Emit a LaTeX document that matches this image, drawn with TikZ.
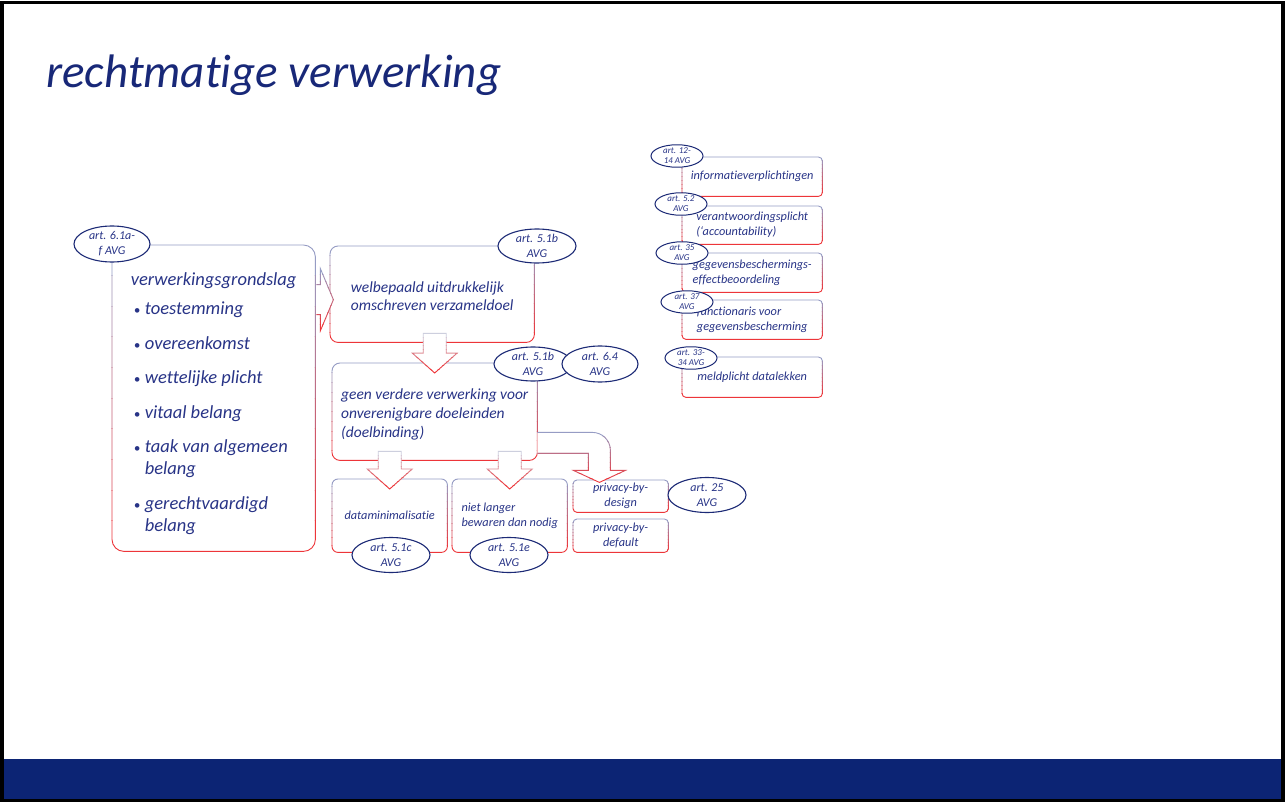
\documentclass[tikz,border=0pt]{standalone}
\usepackage{fontspec}
\setmainfont{Carlito}[Ligatures={TeX,NoCommon}]
\usetikzlibrary{shapes.geometric,calc}

\definecolor{titleblue}{RGB}{24,40,120}
\definecolor{textblue}{RGB}{40,52,135}
\definecolor{artblue}{RGB}{28,42,118}
\definecolor{barblue}{RGB}{12,36,116}
\definecolor{fadegray}{RGB}{150,156,196}
\definecolor{fadelight}{RGB}{205,207,222}
\definecolor{fadered}{RGB}{238,52,56}

% border that runs from blue-grey (top) to red (bottom), drawn in bands
\newcommand\fadedraw[4][fadegray]{%
  \foreach \k in {0,...,9}{%
    \pgfmathtruncatemacro\pct{\k*11}%
    \begin{scope}
      \clip ($(#2)!{\k/10}!(#3)+(-400,{\k==0 ? -3 : 0})$) rectangle
            ($(#2)!{(\k+1)/10}!(#3)+(400,{\k==9 ? 3 : 0})$);
      \draw[fade line, draw=fadered!\pct!#1] #4;
    \end{scope}}}
\newcommand\fadebox[2]{%
  \fadedraw{#1.north}{#1.south}{[rounded corners=#2pt] (#1.north west) rectangle (#1.south east)}}
% hollow block arrow pointing down from node #1 into node #2
\newcommand\downblock[2]{%
  \coordinate (p) at (#2.north|-#1.south);
  \coordinate (q) at (#2.north);
  \coordinate (ftop) at ($(p)+(0,-9)$);
  \coordinate (fbot) at ($(q)+(0,10)$);
  \def\arrowpath{($(p)+(-11.5,-9)$) -- ($(q)+(-11.5,-10)$) -- ($(q)+(-22.5,-10)$)
    -- ($(q)+(0,10)$) -- ($(q)+(22.5,-10)$) -- ($(q)+(11.5,-10)$) -- ($(p)+(11.5,-9)$) -- cycle}%
  \fill[white] \arrowpath;
  \fadedraw[fadelight]{ftop}{fbot}{\arrowpath}}
\newcommand\itm[1]{\hspace*{3pt}\makebox[11pt][l]{\fontsize{13}{13}\selectfont\textbullet}#1}

\begin{document}
\begin{tikzpicture}[x=1pt,y=-1pt,
  box/.style={rectangle, fill=white, anchor=north west, inner sep=0pt, align=left, text=textblue},
  small/.style={font=\fontsize{12.3}{15}\selectfont\itshape},
  art/.style={ellipse, draw=artblue, line width=1.1pt, fill=white, inner sep=0pt, align=center,
    text=textblue, font=\fontsize{12}{15}\selectfont\itshape, minimum width=78pt, minimum height=35pt},
  small art/.style={art, font=\fontsize{9}{10}\selectfont\itshape, minimum width=52pt, minimum height=22pt, line width=1pt},
  fade line/.style={line width=0.9pt}]
  \useasboundingbox (0,0) rectangle (1285,802);
  \fill[white] (0,0) rectangle (1285,802);
  \fill[barblue] (4,759) rectangle (1281,800);
  \draw[line width=3.5pt] (2,2.5) rectangle (1283,800.5);

  \node[anchor=base west, inner sep=0pt, text=titleblue, font=\fontsize{47}{56}\selectfont\itshape] (title) at (46,88) {rechtmatige verwerking};

  % main chain
  \node[box, minimum width=203pt, minimum height=306pt, font=\fontsize{18.5}{22}\selectfont\itshape] (grondslag) at (112,245)
    {\rule{0pt}{24pt}verwerkingsgrondslag\\[7pt]
     \itm{toestemming}\\[12.5pt]
     \itm{overeenkomst}\\[12.5pt]
     \itm{wettelijke plicht}\\[12.5pt]
     \itm{vitaal belang}\\[12.5pt]
     \itm{taak van algemeen}\\ \hspace*{14pt}belang\\[12.5pt]
     \itm{gerechtvaardigd}\\ \hspace*{14pt}belang};
  \node[box, minimum width=204pt, minimum height=96pt, font=\fontsize{15.5}{18}\selectfont\itshape] (doel) at (330,246)
    {\rule{0pt}{15pt}welbepaald uitdrukkelijk\\omschreven verzameldoel};
  \node[box, minimum width=205pt, minimum height=97pt, font=\fontsize{15.5}{19}\selectfont\itshape] (binding) at (332,363)
    {\rule{0pt}{17pt}geen verdere verwerking voor\\onverenigbare doeleinden\\(doelbinding)};
  \node[box, small, minimum width=115pt, minimum height=73pt, align=center] (minimal) at (332,479) {dataminimalisatie};
  \node[box, small, minimum width=115pt, minimum height=73pt] (bewaren) at (452,479) {niet langer\\bewaren dan nodig};
  \node[box, small, minimum width=95pt, minimum height=32pt, align=center] (bydesign) at (573,480) {privacy-by-\\design};
  \node[box, small, minimum width=95pt, minimum height=33pt, align=center] (bydefault) at (573,519) {privacy-by-\\default};

  % obligations on the right
  \node[box, small, minimum width=140pt, minimum height=39pt, align=center] (info) at (682,157) {informatieverplichtingen};
  \node[box, small, minimum width=140pt, minimum height=38pt] (verantw) at (682,206) {verantwoordingsplicht\\(`accountability)};
  \node[box, small, minimum width=140pt, minimum height=39pt] (dpia) at (682,253) {gegevensbeschermings-\\effectbeoordeling};
  \node[box, small, minimum width=140pt, minimum height=39pt] (fg) at (682,300) {functionaris voor\\gegevensbescherming};
  \node[box, small, minimum width=140pt, minimum height=40pt, align=center] (datalek) at (682,357) {meldplicht datalekken};

  \fadebox{grondslag}{12}
  \fadebox{doel}{8}
  \fadebox{binding}{8}
  \fadebox{minimal}{6}
  \fadebox{bewaren}{6}
  \fadebox{bydesign}{4}
  \fadebox{bydefault}{4}
  \foreach \n in {info,verantw,dpia,fg,datalek}{\fadebox{\n}{4}}

  % block arrows
  \coordinate (p) at ($(grondslag.east|-doel.west)+(1,5.5)$);
  \coordinate (ftop) at ($(p)+(0,-31)$);
  \coordinate (fbot) at ($(p)+(0,31)$);
  \fill[white] ($(p)+(0,-15)$) -- ($(p)+(4,-15)$) -- ($(p)+(4,-31)$) -- ($(p)+(17,0)$)
    -- ($(p)+(4,31)$) -- ($(p)+(4,15)$) -- ($(p)+(0,15)$);
  \fadedraw{ftop}{fbot}{($(p)+(0,-15)$) -- ($(p)+(4,-15)$) -- ($(p)+(4,-31)$) -- ($(p)+(17,0)$)
    -- ($(p)+(4,31)$) -- ($(p)+(4,15)$) -- ($(p)+(0,15)$)}
  \downblock{doel}{binding}
  \downblock{binding}{minimal}
  \downblock{binding}{bewaren}
  \coordinate (b) at (binding.south east);
  \coordinate (ftop) at ($(b)+(0,-29)$);
  \coordinate (fbot) at ($(b)+(0,23)$);
  \fill[white] ($(b)+(0,-28)$) -- ($(b)+(55,-28)$) arc (-90:0:18) -- ($(b)+(73,10)$) -- ($(b)+(88,10)$)
    -- ($(b)+(62,22)$) -- ($(b)+(36,10)$) -- ($(b)+(51,10)$) -- ($(b)+(51,-7)$) -- ($(b)+(0,-7)$);
  \fadedraw{ftop}{fbot}{($(b)+(0,-28)$) -- ($(b)+(55,-28)$) arc (-90:0:18) -- ($(b)+(73,10)$) -- ($(b)+(88,10)$)
    -- ($(b)+(62,22)$) -- ($(b)+(36,10)$) -- ($(b)+(51,10)$) -- ($(b)+(51,-7)$) -- ($(b)+(0,-7)$)}

  % article references
  \node[art, minimum width=76pt, minimum height=36pt] (artGrond) at (112,244) {art. 6.1a-\\f AVG};
  \node[art, minimum height=34pt] (artDoel) at (537,246) {art. 5.1b\\AVG};
  \node[art, minimum height=34pt] (artBinding) at (533,364) {art. 5.1b\\AVG};
  \node[art, minimum width=76pt, minimum height=36pt] (artVerder) at (600,364) {art. 6.4\\AVG};
  \node[art] (artMinimal) at (391,555) {art. 5.1c\\AVG};
  \node[art] (artBewaren) at (509,555) {art. 5.1e\\AVG};
  \node[art] (artDesign) at (707,495) {art. 25\\AVG};
  \node[small art] (artInfo) at (677,156) {art. 12-\\14 AVG};
  \node[small art] (artVerantw) at (681,204) {art. 5.2\\AVG};
  \node[small art] (artDpia) at (682,253) {art. 35\\AVG};
  \node[small art] (artFg) at (687,302) {art. 37\\AVG};
  \node[small art] (artDatalek) at (691,358) {art. 33-\\34 AVG};
\end{tikzpicture}
\end{document}
